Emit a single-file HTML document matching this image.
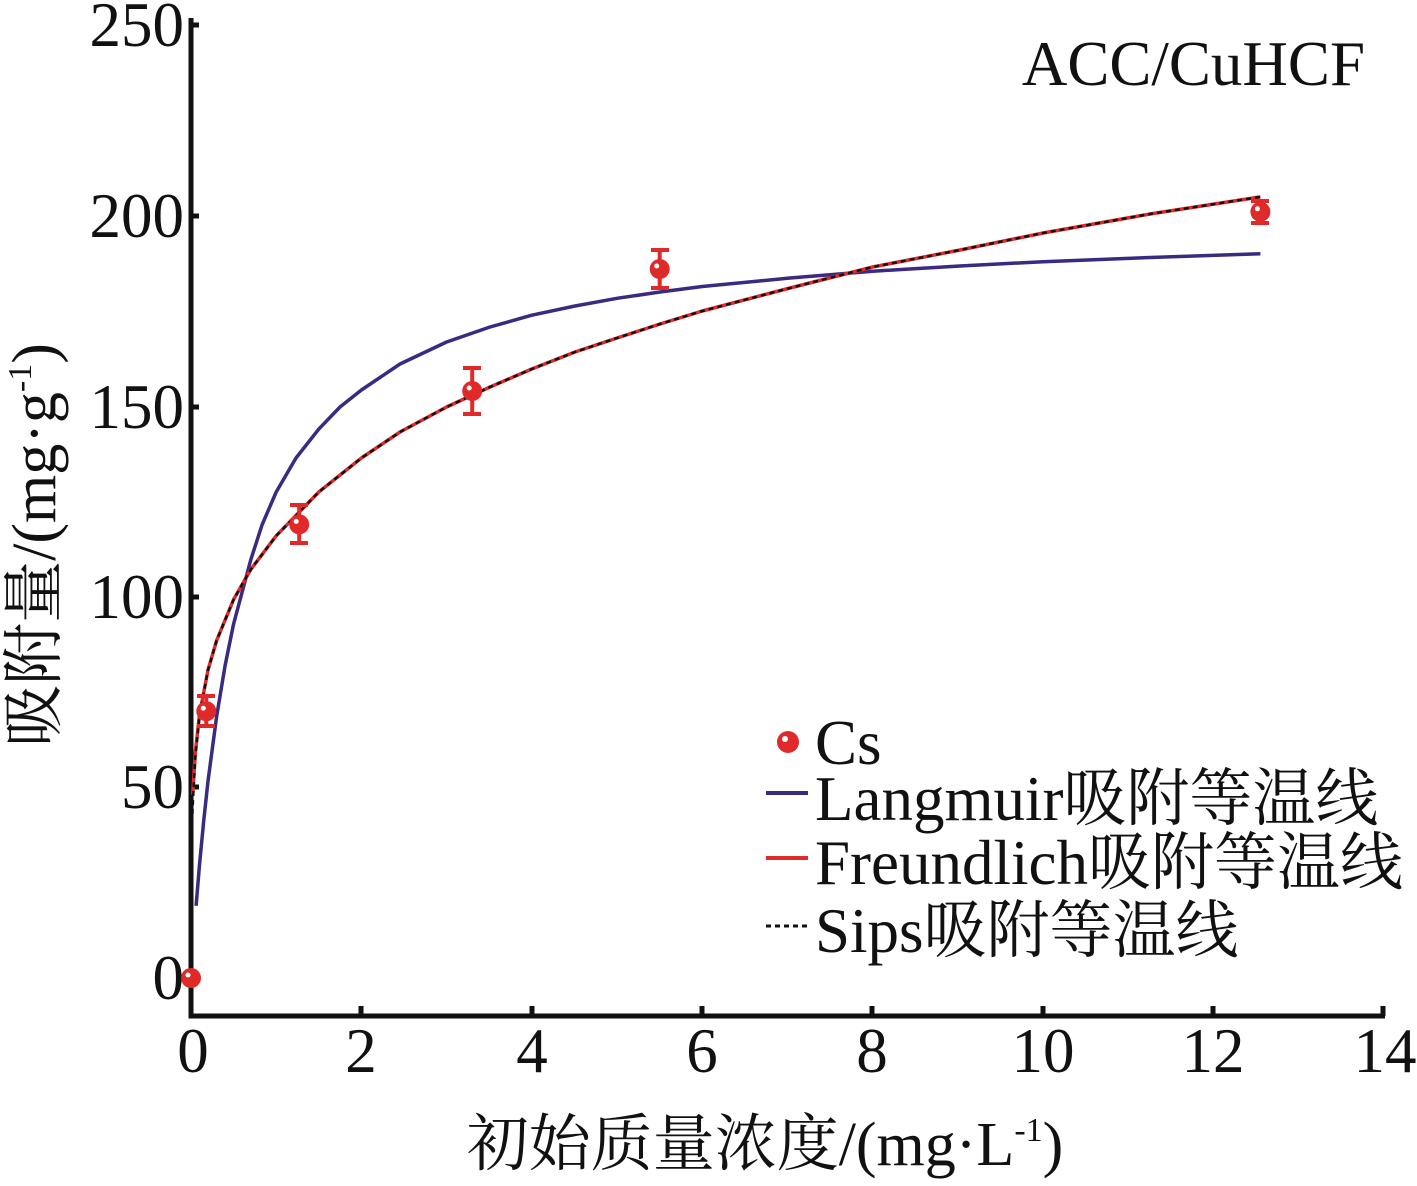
<!DOCTYPE html><html><head><style>body{margin:0;background:#fff}</style></head><body>
<svg width="1417" height="1181" xmlns="http://www.w3.org/2000/svg" font-family="Liberation Serif, Noto Serif CJK SC, serif">
<g stroke="#111" stroke-width="5" fill="none">
<path d="M191,18 V1016 H1385"/>
<path d="M191,787 h8 M191,597 h8 M191,407 h8 M191,216 h8 M191,25 h8 M191,978 h8"/>
<path d="M361,1016 v-10 M532,1016 v-10 M702,1016 v-10 M872,1016 v-10 M1043,1016 v-10 M1213,1016 v-10 M1383,1016 v-10"/>
</g>
<g font-size="63" fill="#111" text-anchor="end">
<text x="184" y="999">0</text><text x="184" y="808">50</text><text x="184" y="618">100</text><text x="184" y="428">150</text><text x="184" y="237">200</text><text x="184" y="46">250</text>
</g>
<g font-size="63" fill="#111" text-anchor="middle">
<text x="193" y="1072">0</text><text x="361" y="1072">2</text><text x="532" y="1072">4</text><text x="702" y="1072">6</text><text x="872" y="1072">8</text><text x="1043" y="1072">10</text><text x="1213" y="1072">12</text><text x="1385" y="1072">14</text>
</g>
<text x="1365" y="85" font-size="63" text-anchor="end" fill="#111">ACC/CuHCF</text>
<text x="765" y="1165" font-size="62" text-anchor="middle" fill="#111">初始质量浓度/(mg·L<tspan font-size="34" dy="-24">-1</tspan><tspan dy="24">)</tspan></text>
<text transform="translate(55,545) rotate(-90)" font-size="62" text-anchor="middle" fill="#111">吸附量/(mg·g<tspan font-size="34" dy="-24">-1</tspan><tspan dy="24">)</tspan></text>
<g fill="none" stroke-width="3.5" stroke-linejoin="round">
<path stroke="#3a2a80" d="M196.1,905.8 L199.5,864.8 L203.8,820.1 L208,781.1 L216.6,716.6 L225.1,665.5 L233.6,623.9 L250.6,560.4 L262,525 L276.2,492 L296,458 L318.8,429.1 L340,407 L361.4,390 L400,364 L446.6,342 L490,327 L531.8,315.2 L575,306 L617.1,298.3 L660,292 L702.3,286.5 L790,278 L872.7,271.2 L960,266 L1043.1,261.7 L1150,257.5 L1260.4,253.8"/>
<path stroke="#e02a2a" d="M192.7,794.6 L195.3,752.7 L199.5,714.6 L208,670 L216.6,640.6 L233.6,599.5 L250.6,569.7 L276.2,535.8 L318.8,492 L361.4,458 L400,432 L446.6,407 L490,387 L531.8,369 L575,352 L617.1,338 L660,324 L702.3,311 L790,288 L872.7,267 L960,250 L1043.1,233 L1150,214 L1260.4,196.9"/>
<path stroke="#111" stroke-width="2.5" stroke-dasharray="5,4" d="M191,850 L193,800 L195.3,758 L199.5,716 L208,670 L216.6,640.6 L233.6,599.5 L250.6,569.7 L276.2,535.8 L318.8,492 L361.4,458 L400,432 L446.6,407 L490,387 L531.8,369 L575,352 L617.1,338 L660,324 L702.3,311 L790,288 L872.7,267 L960,250 L1043.1,233 L1150,214 L1260.4,196.9"/>
</g>
<g stroke="#e02a2a" stroke-width="4" fill="none">
<path d="M206.3,696 V726 M197,696 h18 M197,726 h18"/>
<path d="M299.2,505 V543 M290,505 h18 M290,543 h18"/>
<path d="M472.2,368 V414 M463,368 h18 M463,414 h18"/>
<path d="M659.7,250 V288 M651,250 h18 M651,288 h18"/>
<path d="M1260.4,201 V223 M1251,201 h18 M1251,223 h18"/>
</g>
<g fill="#e02a2a">
<circle cx="191" cy="978" r="10"/><circle cx="206.3" cy="711.2" r="10"/><circle cx="299.2" cy="524.4" r="10"/><circle cx="472.2" cy="391" r="10"/><circle cx="659.7" cy="269" r="10"/><circle cx="1260.4" cy="211.8" r="10"/>
</g>
<g fill="#fff">
<circle cx="188" cy="975" r="2.5"/><circle cx="203.3" cy="708.2" r="2.5"/><circle cx="296.2" cy="521.4" r="2.5"/><circle cx="469.2" cy="388" r="2.5"/><circle cx="656.7" cy="266" r="2.5"/><circle cx="1257.4" cy="208.8" r="2.5"/>
</g>
<g font-size="63" fill="#111">
<circle cx="788" cy="742" r="11" fill="#e02a2a"/><circle cx="785" cy="739" r="3" fill="#fff"/>
<text x="815" y="764">Cs</text>
<line x1="766" y1="793" x2="808" y2="793" stroke="#3a2a80" stroke-width="4"/>
<text x="815" y="820">Langmuir吸附等温线</text>
<line x1="766" y1="858" x2="808" y2="858" stroke="#e02a2a" stroke-width="4"/>
<text x="815" y="884">Freundlich吸附等温线</text>
<line x1="766" y1="926" x2="808" y2="926" stroke="#111" stroke-width="3" stroke-dasharray="5,4"/>
<text x="815" y="952">Sips吸附等温线</text>
</g>
</svg></body></html>
